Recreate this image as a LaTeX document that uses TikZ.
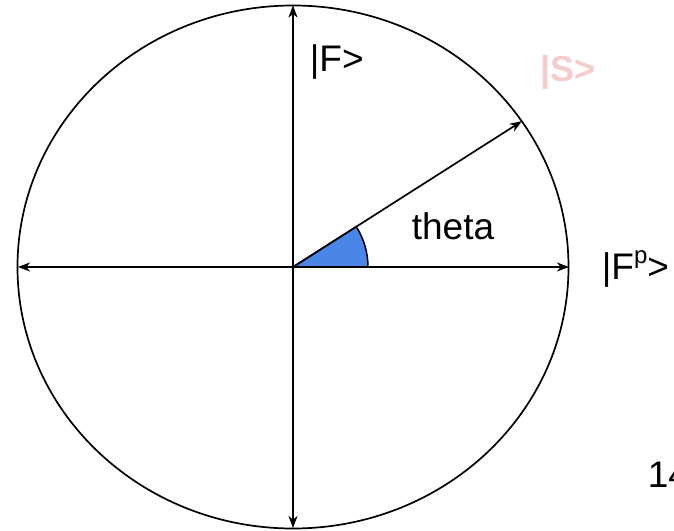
\documentclass[tikz,border=0pt]{standalone}
\usepackage{fontspec}
\setmainfont{Liberation Sans}
\usetikzlibrary{arrows.meta}

\definecolor{wedgeblue}{HTML}{4A86E8}
\definecolor{palepink}{HTML}{F4CCCC}

\begin{document}
\begin{tikzpicture}[x=1pt,y=1pt,line width=1.7pt,
    vec/.style={-{Stealth[length=12pt,width=9pt,inset=3.5pt]}},
    lbl/.style={font=\fontsize{37}{44}\selectfont,inner sep=0pt}]
    \useasboundingbox (-293,-263) rectangle (381,267);
    \coordinate (o) at (0,0);
    \coordinate (top) at (0,261.5);
    \coordinate (bot) at (0,-261);
    \coordinate (lft) at (-275,0);
    \coordinate (rgt) at (276,0);
    \coordinate (s) at (32.5:271.4);
    \draw (o) ellipse [x radius=275.5pt, y radius=261.5pt];
    \filldraw[fill=wedgeblue,line width=1.5pt] (o) -- (75,0) arc (0:32.5:75pt) -- cycle;
    \draw[vec] (o) -- (top);
    \draw[vec] (o) -- (bot);
    \draw[vec] (o) -- (lft);
    \draw[vec] (o) -- (rgt);
    \draw[vec] (o) -- (s);
    \node[lbl,anchor=west] (f) at (16,205) {|F>};
    \node[lbl,anchor=west,text=palepink,font=\fontsize{36}{44}\selectfont\bfseries] (sl) at (247,195) {|S>};
    \node[lbl] (th) at (160,41) {theta};
    \node[lbl,anchor=west] (fp) at (308,-2) {|F\raisebox{0.42em}{\fontsize{24}{28}\selectfont p}>};
    \node[lbl,anchor=west] (pg) at (354,-208) {14};
\end{tikzpicture}
\end{document}
